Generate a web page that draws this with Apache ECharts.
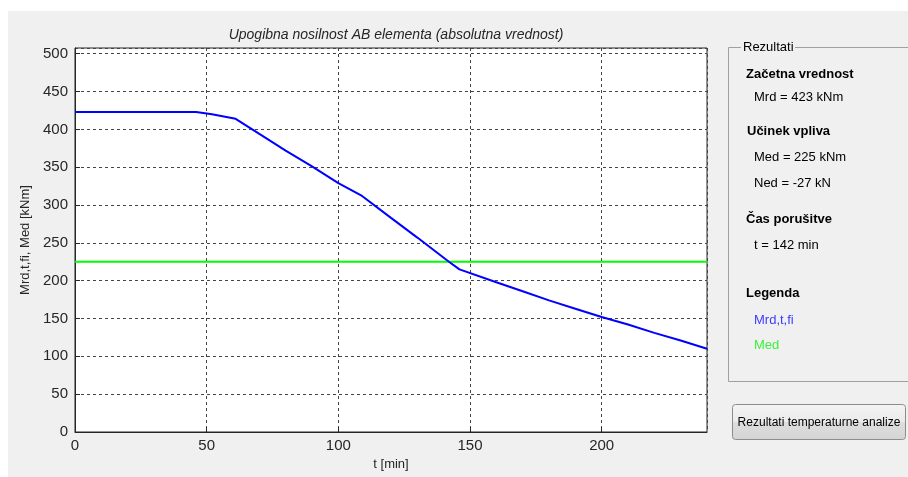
<!DOCTYPE html>
<html>
<head>
<meta charset="utf-8">
<script src="https://cdn.jsdelivr.net/npm/echarts@6/dist/echarts.min.js"></script>
<style>
html,body{margin:0;padding:0;background:#fff;}
#chart{width:908px;height:477px;}
</style>
</head>
<body>
<div id="chart"></div>
<script>
// ---- data ----
const chartTitle = 'Upogibna nosilnost AB elementa (absolutna vrednost)';
const xName = 't [min]';
const yName = 'Mrd,t,fi, Med [kNm]';
const tMin   = [0, 46, 52, 61, 70, 80, 90, 100, 109, 120, 130, 142, 146, 160, 170, 180, 190, 200, 210, 220, 230, 240];
const mrdTfi = [423, 423, 420, 414, 394, 372, 351, 329, 312, 283, 257, 225, 215, 198, 186, 174, 163, 152, 142, 131, 121, 110];
const medT   = [0, 240];
const medVal = [225, 225];
const mrdInitial = 423;
const xMax = 240;
const yMax = 1.2 * mrdInitial;
const panelLines = [
  {text: 'Začetna vrednost', bold: true},
  {text: 'Mrd = 423 kNm'},
  {text: 'Učinek vpliva', bold: true},
  {text: 'Med = 225 kNm'},
  {text: 'Ned = -27 kN'},
  {text: 'Čas porušitve', bold: true},
  {text: 't = 142 min'},
  {text: 'Legenda', bold: true},
  {text: 'Mrd,t,fi', color: '#3c3cff'},
  {text: 'Med', color: '#3cf03c'}
];
const panelY = [74, 97, 131, 157, 183, 219, 245, 293, 320, 345];
const panelX = [746, 754, 747, 754, 754, 746, 754, 746, 754, 754];

const chart = echarts.init(document.getElementById('chart'), null, {renderer: 'canvas'});
const FONT = 'Liberation Sans, Arial, sans-serif';

const graphics = [
  {type: 'rect', z: -10, silent: true, shape: {x: 8, y: 11, width: 900, height: 466}, style: {fill: '#f0f0f0'}},
  // group box frame
  {type: 'polyline', z: 5, shape: {points: [[741, 47.5], [728.5, 47.5], [728.5, 381.5], [908, 381.5]]}, style: {stroke: '#a0a0a0', lineWidth: 1, fill: null}},
  {type: 'line', z: 5, shape: {x1: 795, y1: 47.5, x2: 908, y2: 47.5}, style: {stroke: '#a0a0a0', lineWidth: 1}},
  {type: 'text', z: 6, style: {x: 743, y: 47, text: 'Rezultati', font: '13px ' + FONT, fill: '#000', verticalAlign: 'middle'}},
  // button
  {type: 'rect', z: 5, shape: {x: 732.5, y: 404.5, width: 173, height: 35, r: 3},
   style: {stroke: '#8c8c8c', lineWidth: 1,
     fill: new echarts.graphic.LinearGradient(0, 0, 0, 1, [{offset: 0, color: '#f4f4f4'}, {offset: 0.5, color: '#ebebeb'}, {offset: 0.51, color: '#dedede'}, {offset: 1, color: '#d4d4d4'}])}},
  {type: 'text', z: 6, style: {x: 819, y: 423, text: 'Rezultati temperaturne analize', font: '12px ' + FONT, fill: '#000', align: 'center', verticalAlign: 'middle'}}
];
panelLines.forEach(function (p, i) {
  graphics.push({type: 'text', z: 6, style: {
    x: panelX[i], y: panelY[i], text: p.text,
    font: (p.bold ? 'bold ' : '') + '13px ' + FONT,
    fill: p.color || '#000', verticalAlign: 'middle'
  }});
});

const option = {
  animation: false,
  backgroundColor: '#ffffff',
  textStyle: {fontFamily: FONT},
  title: {
    text: chartTitle, left: 391, top: 23, textAlign: 'center',
    textStyle: {fontSize: 14, fontStyle: 'italic', fontWeight: 'normal', color: '#262626', fontFamily: FONT}
  },
  grid: {left: 75, top: 48, right: 201, bottom: 45, show: true, backgroundColor: '#ffffff', borderColor: '#262626', borderWidth: 1, containLabel: false},
  xAxis: {
    type: 'value', min: 0, max: xMax, interval: 50,
    name: xName, nameLocation: 'middle', nameGap: 23,
    nameTextStyle: {fontSize: 13, color: '#262626', fontFamily: FONT},
    axisLine: {lineStyle: {color: '#262626', width: 1}},
    axisTick: {inside: true, length: 5, lineStyle: {color: '#262626'}},
    axisLabel: {fontSize: 15, color: '#262626', margin: 6, showMaxLabel: false, fontFamily: FONT,
      formatter: function (v) { return v % 50 === 0 ? String(v) : ''; }},
    splitLine: {show: true, lineStyle: {color: '#444', type: [3, 3], width: 1}}
  },
  yAxis: {
    type: 'value', min: 0, max: yMax, interval: 50,
    name: yName, nameLocation: 'middle', nameGap: 38, nameRotate: 90,
    nameTextStyle: {fontSize: 13, color: '#262626', fontFamily: FONT},
    axisLine: {show: true, lineStyle: {color: '#262626', width: 1}},
    axisTick: {show: true, inside: true, length: 5, lineStyle: {color: '#262626'}},
    axisLabel: {fontSize: 15, color: '#262626', margin: 7, showMaxLabel: false, fontFamily: FONT,
      formatter: function (v) { return v % 50 === 0 ? String(v) : ''; }},
    splitLine: {show: true, lineStyle: {color: '#444', type: [3, 3], width: 1}}
  },
  series: [
    {type: 'line', name: 'Mrd,t,fi', data: tMin.map(function (t, i) { return [t, mrdTfi[i]]; }),
     showSymbol: false, lineStyle: {color: '#0000ff', width: 2}, z: 3},
    {type: 'line', name: 'Med', data: medT.map(function (t, i) { return [t, medVal[i]]; }),
     showSymbol: false, lineStyle: {color: '#00ff00', width: 2}, z: 2}
  ],
  graphic: graphics
};
chart.setOption(option);
</script>
</body>
</html>
